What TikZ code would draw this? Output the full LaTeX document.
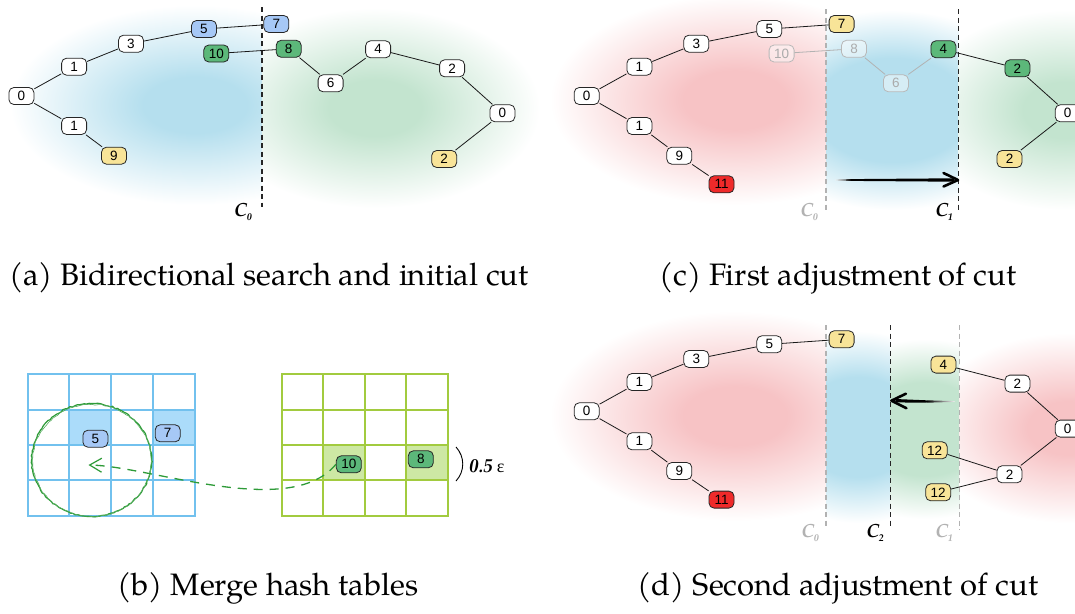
\documentclass[tikz,border=0pt]{standalone}
\usepackage{fontspec}
\newfontfamily\nodefont{Liberation Sans}
\newfontfamily\capfont{TeX Gyre Pagella}
\newfontfamily\greekfont{Liberation Serif}
\usetikzlibrary{arrows.meta,decorations.pathmorphing,calc}

% glow colours, node fills, hash-table colours
\definecolor{gB}{HTML}{B5DFEE}
\definecolor{gG}{HTML}{C3E4CF}
\definecolor{gR}{HTML}{F7C3C5}
\definecolor{nBlue}{HTML}{A6C8F6}
\definecolor{nGreen}{HTML}{5CB87A}
\definecolor{nYellow}{HTML}{F8E498}
\definecolor{nRed}{HTML}{EF2A2A}
\definecolor{gridB}{HTML}{72C1EE}
\definecolor{cellB}{HTML}{ABDCFA}
\definecolor{gridG}{HTML}{A2CB3F}
\definecolor{cellG}{HTML}{CDE8A4}
\definecolor{sketchG}{HTML}{2E9B38}

% soft radial glows: flat core, fading to white at the ellipse rim
\pgfdeclareradialshading{glowB}{\pgfpoint{0bp}{0bp}}{color(0bp)=(gB); color(7bp)=(gB); color(25bp)=(white); color(50bp)=(white)}
\pgfdeclareradialshading{glowG}{\pgfpoint{0bp}{0bp}}{color(0bp)=(gG); color(7bp)=(gG); color(25bp)=(white); color(50bp)=(white)}
\pgfdeclareradialshading{glowR}{\pgfpoint{0bp}{0bp}}{color(0bp)=(gR); color(7bp)=(gR); color(25bp)=(white); color(50bp)=(white)}
% wider flat core for the narrow bands between two cuts
\pgfdeclareradialshading{bandB}{\pgfpoint{0bp}{0bp}}{color(0bp)=(gB); color(13bp)=(gB); color(25bp)=(white); color(50bp)=(white)}
\pgfdeclareradialshading{bandG}{\pgfpoint{0bp}{0bp}}{color(0bp)=(gG); color(13bp)=(gG); color(25bp)=(white); color(50bp)=(white)}

\newcommand{\cutname}[1]{C\kern-0.5pt\raisebox{-3.5pt}{\fontsize{10}{10}\selectfont#1}}

\tikzset{
  nd/.style={shape=rectangle, rounded corners=5pt, draw=black!85, line width=0.8pt,
    fill=white, minimum width=25pt, minimum height=17pt, inner sep=0pt,
    font=\nodefont\fontsize{13.5}{13.5}\selectfont},
  nb/.style={nd, fill=nBlue},
  ng/.style={nd, fill=nGreen},
  ny/.style={nd, fill=nYellow},
  nr/.style={nd, fill=nRed},
  ghost/.style={nd, draw=black!28, text=black!33, fill=white, fill opacity=0.45, text opacity=1},
  link/.style={line width=0.8pt, draw=black!90},
  ghostlink/.style={line width=0.8pt, draw=black!30},
  cutline/.style={line width=1.1pt, draw=black!85, dash pattern=on 5pt off 3.5pt},
  oldcut/.style={cutline, draw=black!30},
  cutlab/.style={font=\capfont\bfseries\itshape\fontsize{19}{19}\selectfont, inner sep=0pt},
  caption/.style={font=\capfont\fontsize{31}{31}\selectfont, anchor=base, inner sep=0pt},
  bgrid/.style={draw=gridB, line width=2pt, line cap=rect},
  ggrid/.style={draw=gridG, line width=2pt, line cap=rect},
}

\begin{document}
\begin{tikzpicture}[x=1pt,y=-1pt]
\useasboundingbox (0,0) rectangle (1075,613);
\fill[white] (0,0) rectangle (1075,613);

% ---------------- (a) bidirectional search ----------------
\begin{scope}
  \clip (0,0) rectangle (262,230);
  \shade[shading=glowB] (195,105) ellipse (185pt and 100pt);
\end{scope}
\begin{scope}
  \clip (262,0) rectangle (560,230);
  \shade[shading=glowG] (375,108) ellipse (165pt and 100pt);
\end{scope}

\coordinate (aCt) at (262,7);
\coordinate (aCb) at (262,207);
\draw[cutline] (aCt) -- (aCb);
\node[cutlab] (aC0) at (243,212) {\cutname{0}};

\node[nd] (a0)  at (21.4,96) {0};
\node[nd] (a1u) at (74.1,66.7) {1};
\node[nd] (a3)  at (131,43.7) {3};
\node[nb] (a5)  at (204,29) {5};
\node[nb] (a7)  at (276.3,24) {7};
\node[ng] (a10) at (216.3,53.5) {10};
\node[ng] (a8)  at (288.7,48.8) {8};
\node[nd] (a6)  at (330.6,83.3) {6};
\node[nd] (a4)  at (378.1,49.3) {4};
\node[nd] (a2)  at (452.1,68.3) {2};
\node[nd] (a0r) at (502.4,113.3) {0};
\node[ny] (a2y) at (444.2,159) {2};
\node[nd] (a1l) at (74.1,126) {1};
\node[ny] (a9)  at (114,155.7) {9};
\foreach \p/\q in {a0/a1u,a1u/a3,a3/a5,a5/a7,a10/a8,a8/a6,a6/a4,a4/a2,a2/a0r,a0r/a2y,a0/a1l,a1l/a9}
  \draw[link] (\p) -- (\q);

\node[caption] (capa) at (269,285) {(a) Bidirectional search and initial cut};

% ---------------- (c) first adjustment ----------------
\begin{scope}
  \clip (540,0) rectangle (826,230);
  \shade[shading=glowR] (735,100) ellipse (185pt and 105pt);
\end{scope}
\begin{scope}
  \clip (826,0) rectangle (958.3,230);
  \shade[shading=bandB] (892,110) ellipse (150pt and 100pt);
\end{scope}
\begin{scope}
  \clip (958.3,0) rectangle (1075,230);
  \shade[shading=glowG] (1065,110) ellipse (150pt and 100pt);
\end{scope}

\coordinate (cC0t) at (826,9);
\coordinate (cC0b) at (826,210);
\coordinate (cC1t) at (958.3,9);
\coordinate (cC1b) at (958.3,212);
\draw[oldcut] (cC0t) -- (cC0b);
\draw[cutline] (cC1t) -- (cC1b);
\node[cutlab, text=black!30] (cC0) at (809,212) {\cutname{0}};
\node[cutlab] (cC1) at (944,212) {\cutname{1}};

\node[nd] (c0)  at (586.7,96) {0};
\node[nd] (c1u) at (639.4,66.7) {1};
\node[nd] (c3)  at (696.3,43.7) {3};
\node[nd] (c5)  at (769.3,29) {5};
\node[ny] (c7)  at (841.6,24) {7};
\node[ghost] (c10) at (781.6,53.5) {10};
\node[ghost] (c8)  at (854,48.8) {8};
\node[ghost] (c6)  at (895.9,83.3) {6};
\node[ng] (c4)  at (943.4,49.3) {4};
\node[ng] (c2)  at (1017.4,68.3) {2};
\node[nd] (c0r) at (1067.7,113.3) {0};
\node[ny] (c2y) at (1009.5,159) {2};
\node[nd] (c1l) at (639.4,126) {1};
\node[nd] (c9)  at (679.3,155.7) {9};
\node[nr] (c11) at (721.5,184.3) {11};
\foreach \p/\q in {c0/c1u,c1u/c3,c3/c5,c5/c7,c4/c2,c2/c0r,c0r/c2y,c0/c1l,c1l/c9,c9/c11}
  \draw[link] (\p) -- (\q);
\foreach \p/\q in {c10/c8,c8/c6,c6/c4}
  \draw[ghostlink] (\p) -- (\q);

% brush-stroke arrow moving the cut to the right
\coordinate (cMs) at (835,180);
\coordinate (cMe) at (958,180);
\shade[left color=black!6, right color=black]
  ($(cMs)+(0,-0.4)$) -- ($(cMs)+(16,-0.9)$) -- ($(cMs)+(16,0.9)$) -- ($(cMs)+(0,0.4)$) -- cycle;
\fill[black] ($(cMs)+(16,-0.9)$) -- ($(cMe)+(-4,-1.7)$) -- ($(cMe)+(-4,1.7)$) -- ($(cMs)+(16,0.9)$) -- cycle;
\draw[line width=2.6pt, line cap=round, line join=round]
  ($(cMe)+(-14.5,-7)$) -- (cMe) -- ($(cMe)+(-14.5,6.5)$);

\node[caption] (capc) at (838,285) {(c) First adjustment of cut};

% ---------------- (b) merge hash tables ----------------
\fill[cellB] (69.4,409.7) rectangle (111.4,445.0);
\fill[cellB] (153.3,409.7) rectangle (195.2,445.0);
\foreach \x in {27.5,69.4,111.4,153.3,195.2}
  \draw[bgrid] (\x,374.3) -- (\x,515.7);
\foreach \y in {374.3,409.7,445.0,480.4,515.7}
  \draw[bgrid] (27.5,\y) -- (195.2,\y);

\fill[cellG] (323.2,445.0) rectangle (364.7,480.4);
\fill[cellG] (406.2,445.0) rectangle (447.7,480.4);
\foreach \x in {281.7,323.2,364.7,406.2,447.7}
  \draw[ggrid] (\x,374.3) -- (\x,515.7);
\foreach \y in {374.3,409.7,445.0,480.4,515.7}
  \draw[ggrid] (281.7,\y) -- (447.7,\y);

\node[nb] (b5)  at (95.4,438.7) {5};
\node[nb] (b7)  at (167.7,433.3) {7};
\node[ng] (b10) at (348.8,464.3) {10};
\node[ng] (b8)  at (420.8,459.3) {8};

% sketched neighbourhood circle
\draw[sketchG, line width=1.2pt, decorate,
      decoration={random steps, segment length=2.5pt, amplitude=0.6pt}]
  (91.6,460) ellipse (60pt and 56.5pt);
\draw[sketchG!80, line width=0.6pt, decorate,
      decoration={random steps, segment length=3pt, amplitude=0.7pt}]
  (92,460.5) ellipse (59.3pt and 56pt);

\coordinate (bTip) at (88.5,465);
\draw[sketchG, line width=1.3pt, dash pattern=on 9pt off 7pt,
      -{Straight Barb[length=12pt, width=14pt, line width=1.2pt]}]
  (b10.west) .. controls (290,520) and (150,466) .. (bTip);

\coordinate (bBt) at (456,447);
\coordinate (bBb) at (456,481);
\draw[line width=0.9pt] (bBt) .. controls (465,457) and (465,471) .. (bBb);
\node[anchor=west, inner sep=0pt] (beps) at (469,466)
  {{\capfont\bfseries\itshape\fontsize{19}{19}\selectfont 0.5}\hspace{4pt}{\greekfont\fontsize{18}{18}\selectfont ε}};

\node[caption] (capb) at (268,595) {(b) Merge hash tables};

% ---------------- (d) second adjustment ----------------
\begin{scope}
  \clip (540,310) rectangle (826,560);
  \shade[shading=glowR] (735,416) ellipse (185pt and 105pt);
\end{scope}
\begin{scope}
  \clip (826,310) rectangle (890.7,560);
  \shade[shading=bandB] (858,427) ellipse (115pt and 96pt);
\end{scope}
\begin{scope}
  \clip (890.7,310) rectangle (959.6,560);
  \shade[shading=bandG] (925,429) ellipse (115pt and 90pt);
\end{scope}
\begin{scope}
  \clip (959.6,310) rectangle (1075,560);
  \shade[shading=glowR] (1068,428) ellipse (145pt and 95pt);
\end{scope}

\coordinate (dC0t) at (826,325);
\coordinate (dC0b) at (826,527);
\coordinate (dC2t) at (890.7,325);
\coordinate (dC2b) at (890.7,527);
\coordinate (dC1t) at (959.6,325);
\coordinate (dC1b) at (959.6,530);
\draw[oldcut] (dC0t) -- (dC0b);
\draw[cutline] (dC2t) -- (dC2b);
\draw[oldcut] (dC1t) -- (dC1b);
\node[cutlab, text=black!30] (dC0) at (810,533) {\cutname{0}};
\node[cutlab] (dC2) at (875,533) {\cutname{2}};
\node[cutlab, text=black!30] (dC1) at (944,533) {\cutname{1}};

\node[nd] (d0)  at (586.7,411.3) {0};
\node[nd] (d1u) at (639.4,382) {1};
\node[nd] (d3)  at (696.3,359) {3};
\node[nd] (d5)  at (769.3,344.3) {5};
\node[ny] (d7)  at (841.6,339.3) {7};
\node[nd] (d1l) at (639.4,441.3) {1};
\node[nd] (d9)  at (679.3,471) {9};
\node[nr] (d11) at (721.5,499.6) {11};
\node[ny] (d4)  at (943.4,364.6) {4};
\node[nd] (d2u) at (1017.4,383.6) {2};
\node[nd] (d0r) at (1067.7,428.6) {0};
\node[nd] (d2l) at (1009.5,474.3) {2};
\node[ny] (d12u) at (934.7,450.3) {12};
\node[ny] (d12l) at (938.2,492.3) {12};
\foreach \p/\q in {d0/d1u,d1u/d3,d3/d5,d5/d7,d0/d1l,d1l/d9,d9/d11,d4/d2u,d2u/d0r,d0r/d2l,d2l/d12u,d2l/d12l}
  \draw[link] (\p) -- (\q);

% brush-stroke arrow moving the cut back to the left
\coordinate (dMs) at (954.5,401.5);
\coordinate (dMe) at (891.4,400.7);
\shade[left color=black, right color=black!6]
  ($(dMs)+(-28,-1.2)$) -- ($(dMs)+(0,-0.4)$) -- ($(dMs)+(0,0.4)$) -- ($(dMs)+(-28,1.2)$) -- cycle;
\fill[black] ($(dMe)+(4,-1.7)$) -- ($(dMs)+(-28,-1.2)$) -- ($(dMs)+(-28,1.2)$) -- ($(dMe)+(4,1.7)$) -- cycle;
\draw[line width=2.6pt, line cap=round, line join=round]
  ($(dMe)+(14.5,-7)$) -- (dMe) -- ($(dMe)+(15,7.5)$);

\node[caption] (capd) at (838,595) {(d) Second adjustment of cut};
\end{tikzpicture}
\end{document}
